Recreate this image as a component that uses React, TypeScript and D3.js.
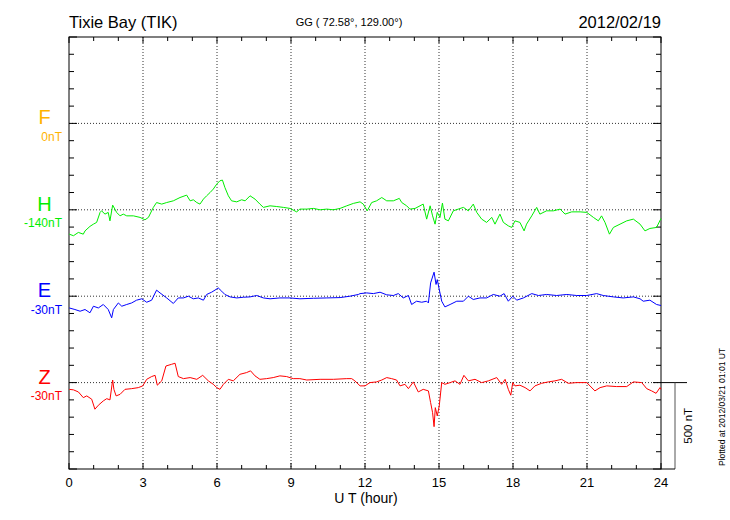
import React from 'react';
import * as d3 from 'd3';

// hour ticks along the time axis
const hourTicks = [0, 3, 6, 9, 12, 15, 18, 21, 24];

// component names, baseline labels and colours (top to bottom)
const compNames = ['F', 'H', 'E', 'Z'];
const compOffsets = ['0nT', '-140nT', '-30nT', '-30nT'];
const compColors = ['#ffb300', '#00ee00', '#0000ff', '#ff0000'];

// deviations from each baseline, nT, as [hour, nT]
const fSeries: [number, number][] = [];

const hSeries: [number, number][] = [
  [0.01, -141], [0.18, -150], [0.38, -131], [0.58, -141], [0.65, -122], [0.85, -96],
  [0.99, -83], [1.12, -73], [1.26, -15], [1.32, -6], [1.46, -25], [1.59, -15],
  [1.66, -64], [1.77, 27], [1.86, 4], [1.93, -15], [2.07, -35], [2.2, -25],
  [2.34, -35], [2.61, -35], [2.88, -44], [3.08, -58], [3.22, -44], [3.42, 14],
  [3.55, 42], [3.76, 33], [3.96, 42], [4.23, 52], [4.5, 71], [4.77, 85],
  [4.91, 52], [5.04, 58], [5.18, 42], [5.31, 33], [5.45, 62], [5.58, 81],
  [5.72, 100], [5.85, 120], [5.99, 149], [6.12, 168], [6.22, 172], [6.32, 129],
  [6.46, 81], [6.59, 52], [6.8, 46], [7.0, 58], [7.14, 52], [7.34, 81],
  [7.54, 62], [7.74, 33], [7.88, 14], [8.15, 23], [8.42, 19], [8.69, 14],
  [8.96, 8], [9.23, -12], [9.36, 4], [9.64, 4], [9.91, 8], [10.18, 0],
  [10.45, 4], [10.72, 0], [10.99, 8], [11.26, 23], [11.53, 37], [11.8, 46],
  [11.93, 33], [12.09, -6], [12.27, 42], [12.47, 52], [12.68, 71], [12.88, 52],
  [13.15, 52], [13.39, 66], [13.49, 42], [13.69, 23], [13.82, 4], [14.03, 8],
  [14.23, 23], [14.36, 33], [14.5, -54], [14.64, 23], [14.74, -35], [14.84, -83],
  [14.93, -15], [15.04, -44], [15.14, 39], [15.24, -54], [15.38, -64], [15.58, -6],
  [15.78, 4], [15.99, 14], [16.19, -6], [16.39, 33], [16.53, -15], [16.73, -54],
  [16.93, -73], [17.14, -44], [17.27, -83], [17.47, -25], [17.61, -73], [17.81, -93],
  [17.95, -102], [18.08, -64], [18.28, -73], [18.45, -122], [18.55, -83], [18.76, -35],
  [18.96, 14], [19.09, -25], [19.36, -6], [19.64, -6], [19.91, 4], [20.11, -25],
  [20.38, -12], [20.72, -12], [20.99, -15], [21.26, -44], [21.46, -64], [21.59, -35],
  [21.73, -73], [21.91, -141], [22.07, -102], [22.34, -83], [22.61, -64], [22.88, -54],
  [23.15, -83], [23.35, -122], [23.55, -108], [23.82, -102], [24.0, -50],
];

const eSeries: [number, number][] = [
  [0.01, -68], [0.24, -77], [0.45, -87], [0.65, -77], [0.85, -96], [0.99, -58],
  [1.19, -68], [1.39, -48], [1.59, -77], [1.73, -125], [1.8, -77], [2.0, -39],
  [2.14, -58], [2.34, -48], [2.54, -39], [2.74, -23], [2.95, -15], [3.15, -35],
  [3.35, -23], [3.55, 35], [3.69, 19], [3.96, -10], [4.23, -42], [4.43, -10],
  [4.64, -10], [4.84, 0], [5.04, -15], [5.24, -10], [5.45, -23], [5.58, 10],
  [5.78, 23], [5.96, 39], [6.05, 48], [6.19, 29], [6.32, 10], [6.53, -4],
  [6.8, -10], [7.07, -6], [7.34, -4], [7.61, 4], [7.88, -10], [8.15, -15],
  [8.55, -10], [8.96, -10], [9.36, -15], [9.91, -12], [10.45, -10], [10.99, -8],
  [11.39, 0], [11.73, 10], [11.8, 15], [12.07, 19], [12.34, 15], [12.61, 23],
  [12.88, 8], [13.15, 4], [13.35, 15], [13.55, -10], [13.76, 4], [13.89, -48],
  [14.09, -29], [14.3, -35], [14.5, -29], [14.57, -39], [14.66, 77], [14.8, 139],
  [14.88, 68], [14.93, 96], [15.01, 39], [15.11, -29], [15.24, -62], [15.45, -48],
  [15.72, -29], [15.99, -29], [16.19, 0], [16.39, -19], [16.66, -10], [16.93, -10],
  [17.2, 10], [17.47, 0], [17.64, 15], [17.81, -29], [17.99, 0], [18.15, -23],
  [18.42, -10], [18.76, 15], [19.03, 4], [19.36, 10], [19.77, 4], [20.18, 10],
  [20.58, 4], [20.99, 4], [21.39, 15], [21.66, 4], [22.07, -4], [22.47, -10],
  [22.88, -4], [23.15, -15], [23.28, -29], [23.55, -23], [23.82, -48], [24.0, -54],
];

const zSeries: [number, number][] = [
  [0.01, -39], [0.18, -42], [0.38, -54], [0.58, -87], [0.72, -77], [0.92, -96],
  [1.05, -154], [1.19, -131], [1.39, -106], [1.53, -93], [1.66, -100], [1.77, 15],
  [1.82, -39], [1.91, -77], [2.07, -68], [2.27, -39], [2.54, -35], [2.81, -29],
  [2.99, -19], [3.15, 19], [3.35, 35], [3.49, 42], [3.58, -15], [3.76, 10],
  [3.93, 96], [4.16, 106], [4.3, 112], [4.43, 35], [4.64, 23], [4.91, 29],
  [5.18, 19], [5.42, 42], [5.65, 10], [5.85, -10], [5.99, -29], [6.12, -39],
  [6.26, -10], [6.46, 19], [6.66, 10], [6.93, 48], [7.2, 58], [7.36, 68],
  [7.54, 39], [7.74, 19], [8.01, 23], [8.28, 29], [8.55, 39], [8.82, 35],
  [9.09, 23], [9.36, 23], [9.64, 15], [10.18, 19], [10.72, 19], [11.26, 23],
  [11.46, 23], [11.59, 10], [11.8, -19], [12.0, -19], [12.2, 0], [12.47, 4],
  [12.68, 15], [12.88, 29], [13.08, 23], [13.28, 15], [13.42, -19], [13.62, -10],
  [13.76, -35], [13.96, 4], [14.16, -54], [14.36, -39], [14.57, -48], [14.66, -116],
  [14.74, -174], [14.8, -255], [14.85, -145], [14.93, -193], [15.01, -135], [15.11, 0],
  [15.24, -10], [15.45, 0], [15.65, 10], [15.85, -10], [16.01, 42], [16.19, 10],
  [16.46, 19], [16.73, 0], [17.0, 10], [17.34, 29], [17.54, -10], [17.68, 19],
  [17.81, -39], [17.91, -73], [17.99, 0], [18.08, -19], [18.28, -15], [18.49, -29],
  [18.69, -48], [18.89, -19], [19.16, -4], [19.43, 4], [19.7, 10], [19.97, 19],
  [20.24, -4], [20.58, 0], [20.99, 0], [21.32, -48], [21.53, -29], [21.8, -19],
  [22.2, -23], [22.61, -23], [22.88, 4], [23.22, 0], [23.42, -35], [23.62, -48],
  [23.8, -62], [23.96, -29], [24.0, -39],
];

const allSeries = [fSeries, hSeries, eSeries, zSeries];

const left = 69, right = 661, top = 37, bottom = 469;
const font = '"Liberation Sans", Arial, Helvetica, sans-serif';

const App: React.FC = () => {
  const x = d3.scaleLinear().domain([0, 24]).range([left, right]);
  // whole panel spans 2500 nT, baselines every 500 nT
  const y = d3.scaleLinear().domain([0, 2500]).range([bottom, top]);
  const bases = [2000, 1500, 1000, 500];

  const nTicks = d3.range(0, 2501, 100);
  const hours = d3.range(0, 25, 1);

  return (
    <svg width={730} height={520} style={{ position: 'absolute', left: 0, top: 0, background: '#fff' }}
      fontFamily={font}>
      <rect x={0} y={0} width={730} height={520} fill="#fff" />

      {/* header */}
      <text x={left} y={28} fontSize={16.5}>Tixie Bay (TIK)</text>
      <text x={349} y={26} fontSize={11} textAnchor="middle">GG ( 72.58°, 129.00°)</text>
      <text x={right} y={28} fontSize={16.5} textAnchor="end">2012/02/19</text>

      {/* vertical dotted grid */}
      {hourTicks.filter(h => h > 0 && h < 24).map(h => (
        <line key={'vg' + h} x1={x(h)} x2={x(h)} y1={top} y2={bottom}
          stroke="#333" strokeWidth={1} strokeDasharray="1,2" />
      ))}
      {/* horizontal dotted baselines */}
      {bases.map((b, i) => (
        <line key={'hg' + i} x1={left} x2={right} y1={y(b)} y2={y(b)}
          stroke="#333" strokeWidth={1} strokeDasharray="1,2" />
      ))}

      {/* hour ticks top & bottom */}
      {hours.map(h => {
        const major = h % 3 === 0;
        return (
          <g key={'ht' + h}>
            <line x1={x(h)} x2={x(h)} y1={top} y2={top + (major ? 6 : 4)} stroke="#000" />
            <line x1={x(h)} x2={x(h)} y1={bottom} y2={bottom - (major ? 6 : 4)} stroke="#000" />
          </g>
        );
      })}
      {/* nT ticks left & right */}
      {nTicks.map(v => {
        const major = v % 500 === 0;
        return (
          <g key={'nt' + v}>
            <line x1={left} x2={left + (major ? 8 : 5)} y1={y(v)} y2={y(v)} stroke="#000" />
            <line x1={right} x2={right - (major ? 8 : 5)} y1={y(v)} y2={y(v)} stroke="#000" />
          </g>
        );
      })}

      {/* frame */}
      <rect x={left} y={top} width={right - left} height={bottom - top} fill="none" stroke="#000" strokeWidth={1} />

      {/* traces */}
      {allSeries.map((s, i) => {
        if (!s.length) return null;
        const line = d3.line<[number, number]>()
          .x(d => x(d[0]))
          .y(d => y(bases[i] + d[1]));
        return <path key={'tr' + i} d={line(s) || ''} fill="none" stroke={compColors[i]} strokeWidth={1} />;
      })}

      {/* component labels */}
      {compNames.map((n, i) => (
        <g key={'lb' + i} fill={compColors[i]}>
          <text x={44.5} y={y(bases[i]) + 1} fontSize={20} textAnchor="middle">{n}</text>
          <text x={62} y={y(bases[i]) + 17.5} fontSize={12} textAnchor="end">{compOffsets[i]}</text>
        </g>
      ))}

      {/* x tick labels */}
      {hourTicks.map(h => (
        <text key={'xl' + h} x={x(h)} y={487} fontSize={13} textAnchor="middle">{h}</text>
      ))}
      <text x={366} y={503} fontSize={14} textAnchor="middle">U T (hour)</text>

      {/* 500 nT scale bar */}
      <line x1={right} x2={687} y1={y(500)} y2={y(500)} stroke="#000" />
      <line x1={675} x2={675} y1={y(500)} y2={y(0)} stroke="#555" />
      <line x1={right} x2={675} y1={y(0)} y2={y(0)} stroke="#000" />
      <text transform={`translate(692,${(y(500) + y(0)) / 2}) rotate(-90)`} fontSize={11.5} textAnchor="middle">500 nT</text>

      <text transform="translate(725,407) rotate(-90)" fontSize={8.5} textAnchor="middle">Plotted at 2012/03/21 01:01 UT</text>
    </svg>
  );
};

export default App;
